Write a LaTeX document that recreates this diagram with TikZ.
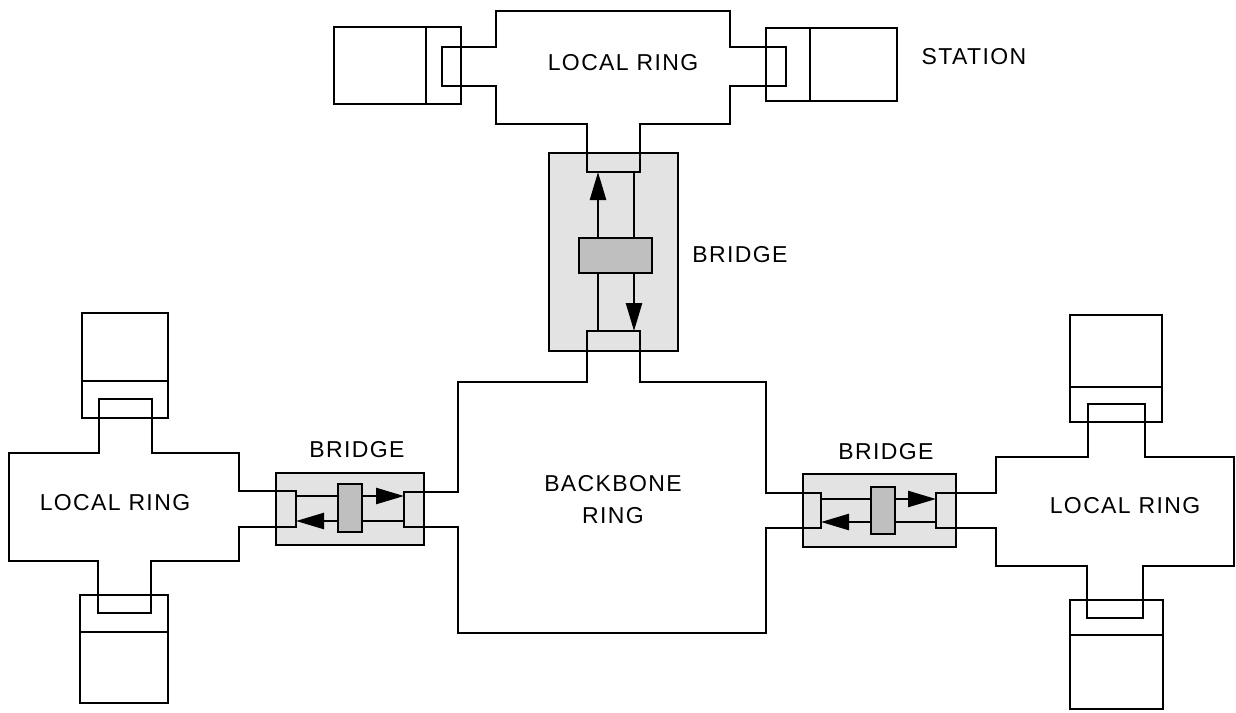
\documentclass[tikz,border=0pt]{standalone}
\usepackage{fontspec}
\setmainfont{Liberation Sans}[LetterSpace=6]
\usetikzlibrary{arrows.meta,fit}
\begin{document}
\begin{tikzpicture}[x=0.5pt,y=-0.5pt,line width=1.25pt,line join=miter,
  ringline/.style={draw=black},
  stationbox/.style={draw=black,inner sep=0pt,rectangle},
  bridgebox/.style={draw=black,fill=gray!22,inner sep=0pt,rectangle},
  procbox/.style={draw=black,fill=gray!50,inner sep=0pt,rectangle},
  flow/.style={draw=black,-{Triangle[length=14pt,width=8pt]}},
  lbl/.style={font=\fontsize{11.5}{16}\selectfont,inner sep=0pt,align=center}]
\useasboundingbox (0,0) rectangle (1236,712);
% bridges
\node[bridgebox,fit={(549,153)(678,351)}] (bridgeT) {};
\node[bridgebox,fit={(276,473)(424,545)}] (bridgeL) {};
\node[bridgebox,fit={(803,474)(956,547)}] (bridgeR) {};
% top local ring
\draw[ringline] (496,11) -- (730,11) -- (730,47) -- (786,47) -- (786,86) -- (730,86)
  -- (730,124) -- (640,124) -- (640,172) -- (587,172) -- (587,124) -- (496,124)
  -- (496,86) -- (442,86) -- (442,47) -- (496,47) -- cycle;
% backbone ring
\draw[ringline] (458,382) -- (587,382) -- (587,331) -- (640,331) -- (640,382) -- (766,382)
  -- (766,493) -- (821,493) -- (821,528) -- (766,528) -- (766,633) -- (458,633)
  -- (458,527) -- (404,527) -- (404,492) -- (458,492) -- cycle;
% left local ring
\draw[ringline] (9,453) -- (99,453) -- (99,399) -- (152,399) -- (152,453) -- (239,453)
  -- (239,491) -- (296,491) -- (296,527) -- (239,527) -- (239,561) -- (151,561)
  -- (151,613) -- (98,613) -- (98,561) -- (9,561) -- cycle;
% right local ring
\draw[ringline] (996,457) -- (1088,457) -- (1088,404) -- (1145,404) -- (1145,457) -- (1234,457)
  -- (1234,566) -- (1143,566) -- (1143,618) -- (1087,618) -- (1087,566) -- (996,566)
  -- (996,528) -- (936,528) -- (936,493) -- (996,493) -- cycle;
% connection points inside the bridges
\coordinate (tUpS) at (598,331); \coordinate (tUpE) at (598,172);
\coordinate (tDnS) at (634,172); \coordinate (tDnE) at (634,331);
\coordinate (lRtS) at (296,496); \coordinate (lRtE) at (404,496);
\coordinate (lLfS) at (404,521); \coordinate (lLfE) at (296,521);
\coordinate (rRtS) at (821,499); \coordinate (rRtE) at (936,499);
\coordinate (rLfS) at (936,522); \coordinate (rLfE) at (821,522);
\draw[flow] (tUpS) -- (tUpE);
\draw[flow] (tDnS) -- (tDnE);
\draw[flow] (lRtS) -- (lRtE);
\draw[flow] (lLfS) -- (lLfE);
\draw[flow] (rRtS) -- (rRtE);
\draw[flow] (rLfS) -- (rLfE);
% processing boxes
\node[procbox,fit={(579,238)(652,273)}] (procT) {};
\node[procbox,fit={(338,484)(362,532)}] (procL) {};
\node[procbox,fit={(871,487)(895,534)}] (procR) {};
% stations
\node[stationbox,fit={(334,27)(461,104)}] (stTL) {};
\draw (426,27) -- (426,104);
\node[stationbox,fit={(766,28)(897,101)}] (stTR) {};
\draw (810,28) -- (810,101);
\node[stationbox,fit={(82,313)(168,418)}] (stLT) {};
\draw (82,381) -- (168,381);
\node[stationbox,fit={(80,595)(168,703)}] (stLB) {};
\draw (80,632) -- (168,632);
\node[stationbox,fit={(1070,315)(1162,422)}] (stRT) {};
\draw (1070,387) -- (1162,387);
\node[stationbox,fit={(1070,600)(1163,709)}] (stRB) {};
\draw (1070,635) -- (1163,635);
% labels
\node[lbl] (tTop) at (623,63) {LOCAL RING};
\node[lbl] (tStation) at (974,57) {STATION};
\node[lbl] (tBridgeT) at (740,255) {BRIDGE};
\node[lbl] (tBridgeL) at (357,450) {BRIDGE};
\node[lbl] (tBridgeR) at (886,452) {BRIDGE};
\node[lbl] (tBackbone) at (613,500) {BACKBONE\\RING};
\node[lbl] (tLeft) at (115,503) {LOCAL RING};
\node[lbl] (tRight) at (1125,506) {LOCAL RING};
\end{tikzpicture}
\end{document}
